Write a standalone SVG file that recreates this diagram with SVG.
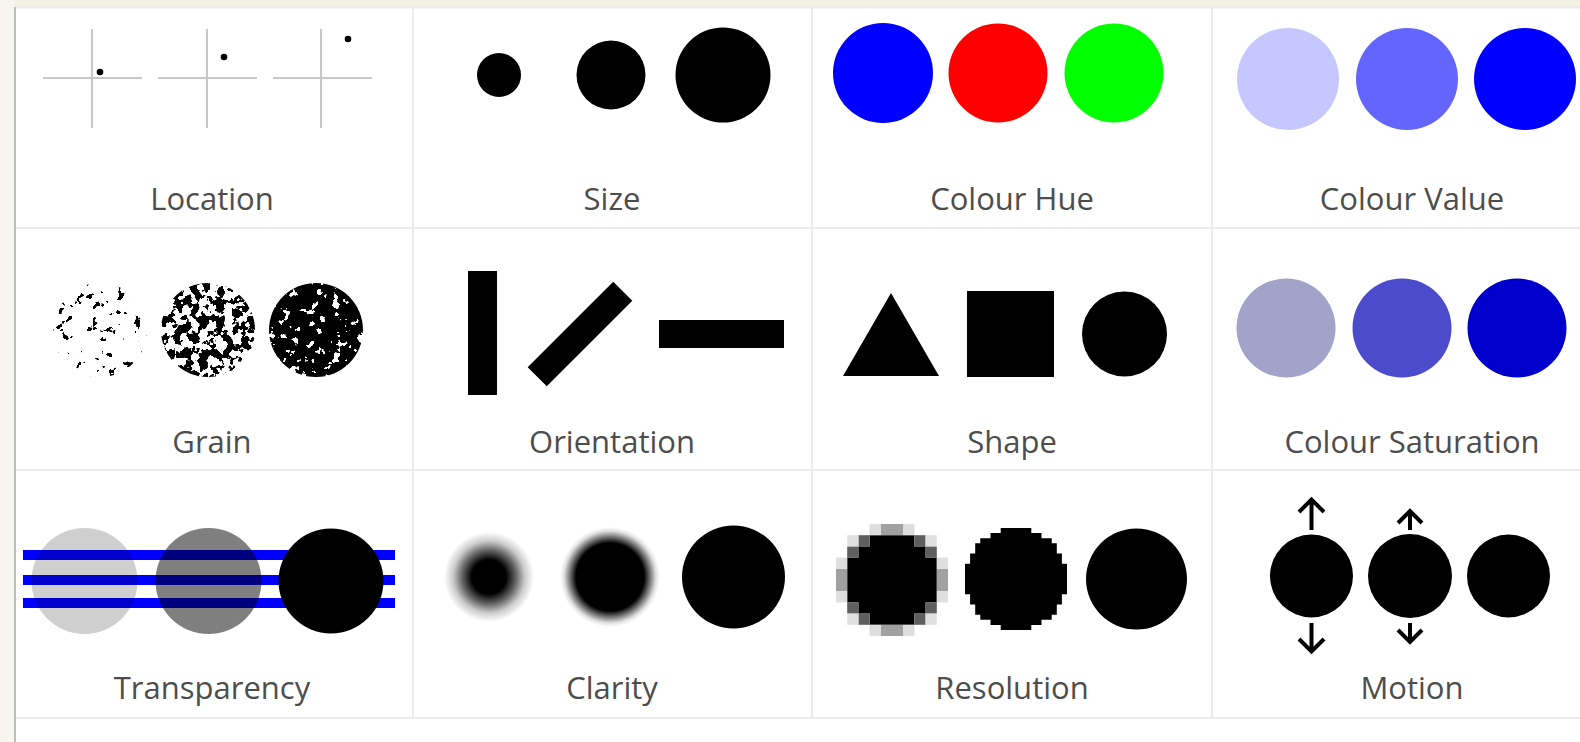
<svg xmlns="http://www.w3.org/2000/svg" width="1580" height="742" viewBox="0 0 1580 742">
<style>
.lbl{font-family:"Open Sans","Noto Sans","Liberation Sans",sans-serif;font-size:31px;fill:#4d4d4d;text-anchor:middle}
.axis{stroke:#c8c8c8;stroke-width:2;fill:none}
.sep{stroke:#ececec;stroke-width:2;fill:none}
.blk{fill:#000}
.arr{stroke:#000;stroke-width:4;fill:none;stroke-linecap:butt;stroke-linejoin:miter}
</style>
<defs>
<filter id="g1" x="0" y="0" width="1" height="1" color-interpolation-filters="sRGB">
<feTurbulence type="fractalNoise" baseFrequency="0.12" numOctaves="3" seed="4" result="n"/>
<feColorMatrix in="n" type="matrix" values="0 0 0 0 0  0 0 0 0 0  0 0 0 0 0  -40 0 0 0 13.5" result="m"/>
<feComposite in="m" in2="SourceGraphic" operator="in"/>
</filter>
<filter id="g2" x="0" y="0" width="1" height="1" color-interpolation-filters="sRGB">
<feTurbulence type="fractalNoise" baseFrequency="0.12" numOctaves="3" seed="9" result="n"/>
<feColorMatrix in="n" type="matrix" values="0 0 0 0 0  0 0 0 0 0  0 0 0 0 0  -40 0 0 0 20.5" result="m"/>
<feComposite in="m" in2="SourceGraphic" operator="in"/>
</filter>
<filter id="g3" x="0" y="0" width="1" height="1" color-interpolation-filters="sRGB">
<feTurbulence type="fractalNoise" baseFrequency="0.12" numOctaves="3" seed="13" result="n"/>
<feColorMatrix in="n" type="matrix" values="0 0 0 0 0  0 0 0 0 0  0 0 0 0 0  -40 0 0 0 26" result="m"/>
<feComposite in="m" in2="SourceGraphic" operator="in"/>
</filter>
<filter id="soft" x="-10%" y="-10%" width="120%" height="120%">
<feGaussianBlur stdDeviation="0.7"/>
</filter>
<radialGradient id="c1">
<stop offset="0" stop-color="#000" stop-opacity="1"/>
<stop offset="0.38" stop-color="#000" stop-opacity="1"/>
<stop offset="0.6" stop-color="#000" stop-opacity="0.6"/>
<stop offset="0.8" stop-color="#000" stop-opacity="0.2"/>
<stop offset="1" stop-color="#000" stop-opacity="0"/>
</radialGradient>
<radialGradient id="c2">
<stop offset="0" stop-color="#000" stop-opacity="1"/>
<stop offset="0.68" stop-color="#000" stop-opacity="1"/>
<stop offset="0.8" stop-color="#000" stop-opacity="0.55"/>
<stop offset="0.92" stop-color="#000" stop-opacity="0.12"/>
<stop offset="1" stop-color="#000" stop-opacity="0"/>
</radialGradient>
</defs>

<rect x="0" y="0" width="1580" height="742" fill="#ffffff"/>
<rect x="0" y="0" width="1580" height="7" fill="#f3f0e4"/>
<rect x="0" y="0" width="14" height="742" fill="#f7f5f0"/>

<g id="grid">
<line x1="15" y1="7" x2="15" y2="742" stroke="#bdbdbd" stroke-width="2"/>
<line x1="16" y1="7.5" x2="1580" y2="7.5" class="sep"/>
<line x1="16" y1="228" x2="1580" y2="228" class="sep"/>
<line x1="16" y1="470" x2="1580" y2="470" class="sep"/>
<line x1="16" y1="718" x2="1580" y2="718" class="sep"/>
<line x1="413" y1="7" x2="413" y2="718" class="sep"/>
<line x1="812" y1="7" x2="812" y2="718" class="sep"/>
<line x1="1212" y1="7" x2="1212" y2="718" class="sep"/>
</g>

<g id="location">
<path class="axis" d="M43 78H142M158 78H257M273 78H372M92 29V128M207 29V128M321 29V128"/>
<circle class="blk" cx="100" cy="72" r="3.3"/>
<circle class="blk" cx="224" cy="57" r="3.3"/>
<circle class="blk" cx="348" cy="39" r="3.3"/>
<text class="lbl" x="212" y="210">Location</text>
</g>

<g id="size">
<circle class="blk" cx="499" cy="75" r="22"/>
<circle class="blk" cx="611" cy="75" r="34.5"/>
<circle class="blk" cx="723" cy="75" r="47.5"/>
<text class="lbl" x="612" y="210">Size</text>
</g>

<g id="colour-hue">
<circle cx="883" cy="73" r="50" fill="#0000ff"/>
<circle cx="998" cy="73" r="49.5" fill="#ff0000"/>
<circle cx="1114" cy="73" r="49.5" fill="#00ff00"/>
<text class="lbl" x="1012" y="210">Colour Hue</text>
</g>

<g id="colour-value">
<circle cx="1288" cy="79" r="51" fill="#c7c7ff"/>
<circle cx="1407" cy="79" r="51" fill="#6464ff"/>
<circle cx="1525" cy="79" r="51" fill="#0000ff"/>
<text class="lbl" x="1412" y="210">Colour Value</text>
</g>

<g id="grain">
<circle cx="100" cy="330" r="47" fill="#000" filter="url(#g1)"/>
<circle cx="208" cy="330" r="47" fill="#000" filter="url(#g2)"/>
<circle cx="316" cy="330" r="47" fill="#000" filter="url(#g3)"/>
<text class="lbl" x="212" y="453">Grain</text>
</g>

<g id="orientation">
<rect class="blk" x="468" y="271" width="29" height="124"/>
<rect class="blk" x="519.5" y="320.5" width="121" height="27" transform="rotate(-45 580 334)"/>
<rect class="blk" x="659" y="320" width="125" height="28"/>
<text class="lbl" x="612" y="453">Orientation</text>
</g>

<g id="shape">
<polygon class="blk" points="891,293 939,376 843,376"/>
<rect class="blk" x="967" y="291" width="87" height="86"/>
<circle class="blk" cx="1124.5" cy="334" r="42.5"/>
<text class="lbl" x="1012" y="453">Shape</text>
</g>

<g id="colour-saturation">
<circle cx="1286" cy="328" r="49.5" fill="#a3a3c9"/>
<circle cx="1402" cy="328" r="49.5" fill="#4b4bcc"/>
<circle cx="1517" cy="328" r="49.5" fill="#0000cc"/>
<text class="lbl" x="1412" y="453">Colour Saturation</text>
</g>

<g id="transparency">
<path d="M23 555H395M23 580H395M23 603H395" stroke="#0000ff" stroke-width="10" fill="none"/>
<circle cx="84.5" cy="581" r="53" fill="#000" fill-opacity="0.19"/>
<circle cx="208.5" cy="581" r="53" fill="#000" fill-opacity="0.5"/>
<circle cx="331" cy="581" r="52.5" fill="#000"/>
<text class="lbl" x="212" y="699">Transparency</text>
</g>

<g id="clarity">
<circle cx="489" cy="577" r="45" fill="url(#c1)"/>
<circle cx="610" cy="577" r="50" fill="url(#c2)"/>
<circle class="blk" cx="733.5" cy="577" r="51.5"/>
<text class="lbl" x="612" y="699">Clarity</text>
</g>

<g id="resolution">
<g filter="url(#soft)">
<rect class="blk" x="869.6" y="535.2" width="44.8" height="89.6"/>
<rect class="blk" x="858.4" y="546.4" width="67.2" height="67.2"/>
<rect class="blk" x="847.2" y="557.6" width="89.6" height="44.8"/>
<g fill="#a1a1a1">
<rect x="880.8" y="524" width="22.4" height="11.2"/>
<rect x="880.8" y="624.8" width="22.4" height="11.2"/>
<rect x="836" y="568.8" width="11.2" height="22.4"/>
<rect x="936.8" y="568.8" width="11.2" height="22.4"/>
</g>
<g fill="#dedede">
<rect x="869.6" y="524" width="11.2" height="11.2"/>
<rect x="903.2" y="524" width="11.2" height="11.2"/>
<rect x="869.6" y="624.8" width="11.2" height="11.2"/>
<rect x="903.2" y="624.8" width="11.2" height="11.2"/>
<rect x="836" y="557.6" width="11.2" height="11.2"/>
<rect x="836" y="591.2" width="11.2" height="11.2"/>
<rect x="936.8" y="557.6" width="11.2" height="11.2"/>
<rect x="936.8" y="591.2" width="11.2" height="11.2"/>
</g>
<g fill="#5e5e5e">
<rect x="858.4" y="535.2" width="11.2" height="11.2"/>
<rect x="914.4" y="535.2" width="11.2" height="11.2"/>
<rect x="858.4" y="613.6" width="11.2" height="11.2"/>
<rect x="914.4" y="613.6" width="11.2" height="11.2"/>
<rect x="847.2" y="546.4" width="11.2" height="11.2"/>
<rect x="925.6" y="546.4" width="11.2" height="11.2"/>
<rect x="847.2" y="602.4" width="11.2" height="11.2"/>
<rect x="925.6" y="602.4" width="11.2" height="11.2"/>
</g>
<g fill="#e0e0e0">
<rect x="847.2" y="535.2" width="11.2" height="11.2"/>
<rect x="925.6" y="535.2" width="11.2" height="11.2"/>
<rect x="847.2" y="613.6" width="11.2" height="11.2"/>
<rect x="925.6" y="613.6" width="11.2" height="11.2"/>
</g>
</g>
<path class="blk" filter="url(#soft)" d="M1000.7 528H1031.3V533.1H1041.5V538.2H1051.7V543.3H1056.8V553.5H1061.9V563.7H1067V594.3H1061.9V604.5H1056.8V614.7H1051.7V619.8H1041.5V624.9H1031.3V630H1000.7V624.9H990.5V619.8H980.3V614.7H975.2V604.5H970.1V594.3H965V563.7H970.1V553.5H975.2V543.3H980.3V538.2H990.5V533.1H1000.7Z"/>
<circle class="blk" cx="1136.5" cy="579" r="50.5"/>
<text class="lbl" x="1012" y="699">Resolution</text>
</g>

<g id="motion">
<circle class="blk" cx="1311.5" cy="576" r="41.5"/>
<circle class="blk" cx="1410" cy="576" r="42"/>
<circle class="blk" cx="1508.5" cy="576" r="41.5"/>
<path class="arr" d="M1311.5 530V500M1299 512L1311.5 499.5L1324 512"/>
<path class="arr" d="M1311.5 623V651M1299 639L1311.5 651.5L1324 639"/>
<path class="arr" d="M1410 530V512M1398 523L1410 511L1422 523"/>
<path class="arr" d="M1410 623V641M1398 630L1410 642L1422 630"/>
<text class="lbl" x="1412" y="699">Motion</text>
</g>
</svg>
